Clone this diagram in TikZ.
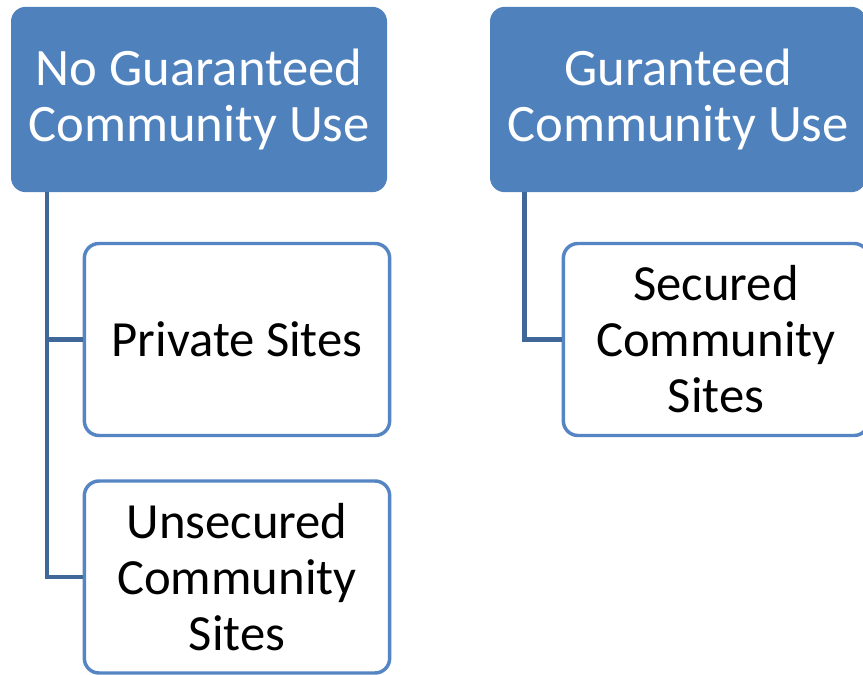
\documentclass[tikz,border=0pt]{standalone}
\usepackage{fontspec}
\setmainfont{Carlito}
\usepackage{tikz}
\definecolor{sgBlue}{HTML}{4F81BD}
\definecolor{sgEdge}{HTML}{5585C2}
\definecolor{sgLink}{HTML}{3F6797}

\begin{document}
\begin{tikzpicture}[
  x=0.75pt, y=-0.75pt,
  font=\fontsize{38}{42}\selectfont,
  head/.style={fill=sgBlue, draw=none, rounded corners=11pt, text=white,
               align=center, inner sep=0pt,
               font=\fontsize{39.5}{42.5}\selectfont,
               minimum width=282pt, minimum height=139pt},
  kid/.style={draw=sgEdge, line width=2.6pt, fill=white, rounded corners=11pt,
              align=center, inner sep=0pt, text=black,
              minimum width=229pt, minimum height=144pt},
  link/.style={draw=sgLink, line width=3.3pt}
]
  \useasboundingbox (0,0) rectangle (863,674);

  \node[head] (hdNone) at (199,99.5) {No Guaranteed\\Community Use};
  \node[head] (hdSure) at (678,99.5) {Guranteed\\Community Use};

  \node[kid] (private) at (237,339.5) {Private Sites};
  \node[kid] (unsecured) at (237,577) {Unsecured\\Community\\Sites};
  \node[kid] (secured) at (716,339.5) {Secured\\Community\\Sites};

  \draw[link] ([xshift=27pt]hdNone.south west) |- (private.west);
  \draw[link] ([xshift=27pt]hdNone.south west) |- (unsecured.west);
  \draw[link] ([xshift=26pt]hdSure.south west) |- (secured.west);
\end{tikzpicture}
\end{document}
